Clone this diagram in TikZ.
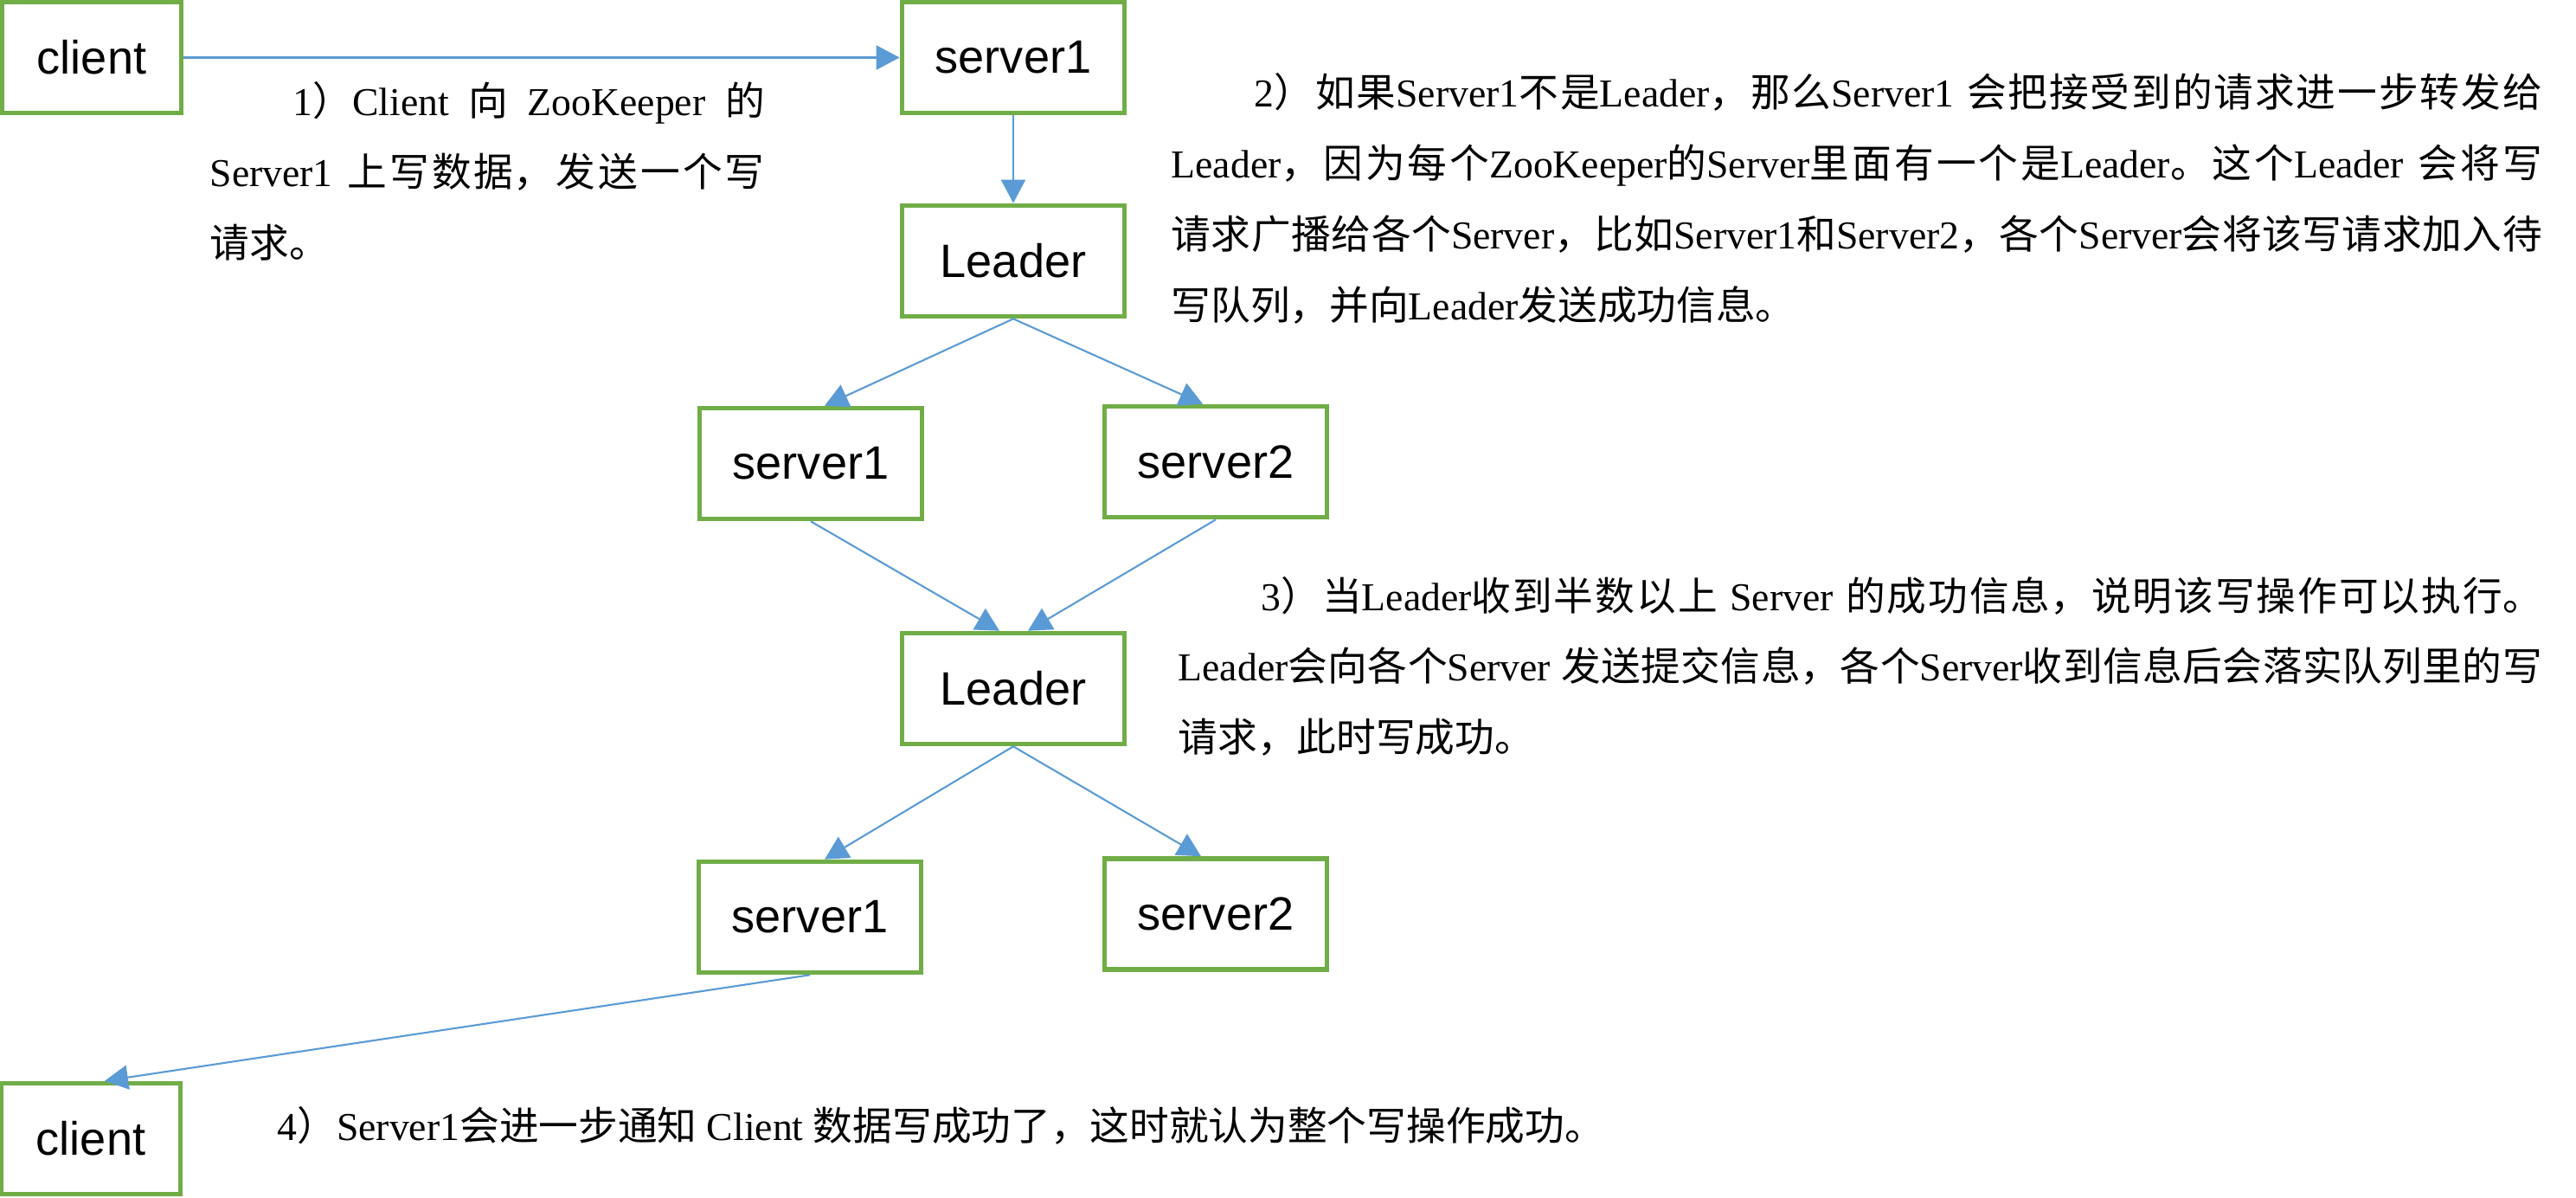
\documentclass[tikz,border=0pt]{standalone}
\usepackage{fontspec}
\setmainfont{Liberation Serif}
\setsansfont{Liberation Sans}
\newfontfamily\cjk{Noto Sans CJK SC}
\XeTeXinterchartokenstate=1
\XeTeXlinebreaklocale "zh"
\XeTeXlinebreakskip=0pt plus 1pt minus 0.5pt
\newXeTeXintercharclass\cjkclass
\newcount\cjkcode
\cjkcode="4E00
\loop
  \XeTeXcharclass\cjkcode=\cjkclass
  \advance\cjkcode by 1
\ifnum\cjkcode<"A000 \repeat
\XeTeXcharclass"3002=\cjkclass
\XeTeXcharclass"FF09=\cjkclass
\XeTeXcharclass"FF0C=\cjkclass
\XeTeXinterchartoks 0 \cjkclass = {\cjk}
\XeTeXinterchartoks 4095 \cjkclass = {\cjk}
\XeTeXinterchartoks \cjkclass 0 = {\rmfamily}
\XeTeXinterchartoks \cjkclass 4095 = {\rmfamily}
\usepackage{tikz}
\usetikzlibrary{arrows.meta}
\definecolor{boxgreen}{HTML}{70AD47}
\definecolor{linkblue}{HTML}{5B9BD5}

\begin{document}
\begin{tikzpicture}[
  box/.style={draw=boxgreen,line width=1.6pt,fill=white,minimum width=2.57cm,minimum height=1.28cm,inner sep=0pt,font=\sffamily\fontsize{15.4}{18}\selectfont},
  link/.style={draw=linkblue,line width=0.6pt,-{Triangle[length=0.27cm,width=0.28cm]}},
  note/.style={anchor=base west,inner sep=0pt,align=justify,font=\fontsize{13}{23.3}\selectfont}
]
  \useasboundingbox (0,0) rectangle (29.77,-13.83);

  \node[box,minimum width=2.07cm] (client) at (1.06,-0.665) {client};
  \node[box] (server) at (11.71,-0.665) {server1};
  \node[box] (leadA) at (11.71,-3.015) {Leader};
  \node[box] (serverA) at (9.37,-5.355) {server1};
  \node[box] (serverB) at (14.05,-5.335) {server2};
  \node[box] (leadB) at (11.71,-7.955) {Leader};
  \node[box] (serverC) at (9.36,-10.595) {server1};
  \node[box] (serverD) at (14.05,-10.56) {server2};
  \node[box,minimum width=2.07cm] (clientB) at (1.05,-13.155) {client};

  \draw[link] (client) -- (server);
  \draw[link] (server) -- (leadA);
  \draw[link] (leadA.south) -- ([xshift=0.16cm]serverA.north);
  \draw[link] (leadA.south) -- ([xshift=-0.15cm]serverB.north);
  \draw[link] (serverA.south) -- ([xshift=-0.16cm]leadB.north);
  \draw[link] (serverB.south) -- ([xshift=0.17cm]leadB.north);
  \draw[link] (leadB.south) -- ([xshift=0.17cm]serverC.north);
  \draw[link] (leadB.south) -- ([xshift=-0.17cm]serverD.north);
  \draw[link] (serverC.south) -- ([xshift=0.16cm]clientB.north);

  \node[note,text width=6.41cm] (stepA) at (2.42,-1.34) {\hspace*{2.1em}1）Client 向 ZooKeeper 的\linebreak Server1 上写数据，发送一个写\linebreak 请求。};
  \node[note,text width=15.84cm] (stepB) at (13.53,-1.24) {\hspace*{2.1em}2）如果Server1不是Leader，那么Server1 会把接受到的请求进一步转发给\linebreak Leader，因为每个ZooKeeper的Server里面有一个是Leader。这个Leader 会将写\linebreak 请求广播给各个Server，比如Server1和Server2，各个Server会将该写请求加入待\linebreak 写队列，并向Leader发送成功信息。};
  \node[note,text width=15.76cm] (stepC) at (13.61,-7.05) {\hspace*{2.1em}3）当Leader收到半数以上 Server 的成功信息，说明该写操作可以执行。\linebreak Leader会向各个Server 发送提交信息，各个Server收到信息后会落实队列里的写\linebreak 请求，此时写成功。};
  \node[note] (stepD) at (3.2,-13.17) {4）Server1会进一步通知 Client 数据写成功了，这时就认为整个写操作成功。};
\end{tikzpicture}
\end{document}
